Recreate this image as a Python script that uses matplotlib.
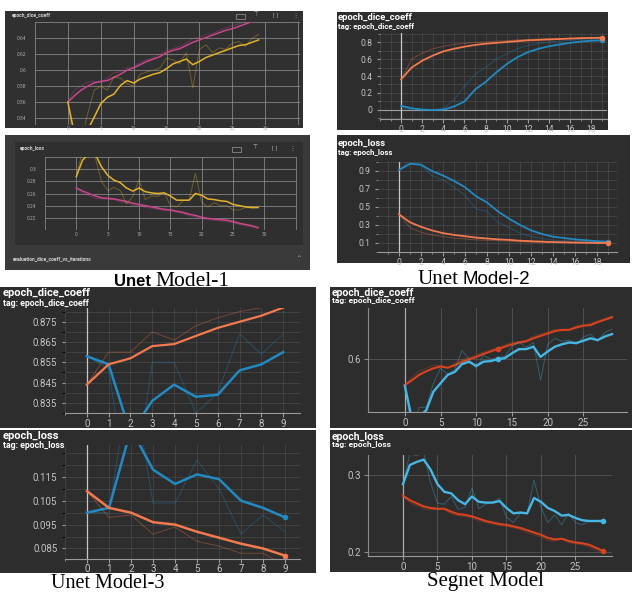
import numpy as np
import matplotlib
matplotlib.use('Agg')
import matplotlib.pyplot as plt
from matplotlib.patches import Rectangle

W, H = 632, 593

# ---------------- data ----------------
# Unet Model-1 (30 epochs)
m1_epochs = np.arange(30)
m1_dice_pink = [0.560, 0.568, 0.575, 0.580, 0.584, 0.586, 0.587, 0.591, 0.595, 0.600,
                0.603, 0.607, 0.611, 0.614, 0.617, 0.622, 0.625, 0.627, 0.631, 0.635,
                0.638, 0.641, 0.644, 0.647, 0.650, 0.652, 0.655, 0.658, 0.661, 0.663]
m1_dice_pink_raw = [0.560, 0.575, 0.580, 0.585, 0.586, 0.585, 0.590, 0.597, 0.598, 0.603,
                    0.604, 0.610, 0.613, 0.616, 0.620, 0.625, 0.627, 0.630, 0.634, 0.640,
                    0.641, 0.645, 0.646, 0.650, 0.653, 0.656, 0.658, 0.662, 0.664, 0.667]
m1_dice_yellow = [0.560, 0.520, 0.515, 0.525, 0.541, 0.558, 0.566, 0.570, 0.581, 0.587,
                  0.584, 0.589, 0.592, 0.595, 0.597, 0.602, 0.608, 0.611, 0.614, 0.607,
                  0.611, 0.616, 0.619, 0.622, 0.625, 0.628, 0.631, 0.632, 0.635, 0.638]
m1_dice_yellow_raw = [0.560, 0.500, 0.510, 0.545, 0.575, 0.580, 0.575, 0.592, 0.590, 0.583,
                      0.580, 0.595, 0.598, 0.600, 0.603, 0.615, 0.613, 0.608, 0.622, 0.578,
                      0.626, 0.632, 0.622, 0.628, 0.626, 0.634, 0.636, 0.630, 0.640, 0.645]
m1_loss_pink = [0.269, 0.264, 0.260, 0.256, 0.253, 0.252, 0.251, 0.249, 0.247, 0.244,
                0.242, 0.240, 0.238, 0.236, 0.234, 0.233, 0.231, 0.229, 0.226, 0.224,
                0.221, 0.219, 0.218, 0.217, 0.216, 0.214, 0.211, 0.209, 0.207, 0.204]
m1_loss_pink_raw = [0.269, 0.260, 0.257, 0.252, 0.251, 0.251, 0.250, 0.246, 0.245, 0.241,
                    0.240, 0.237, 0.236, 0.234, 0.232, 0.231, 0.229, 0.227, 0.224, 0.221,
                    0.219, 0.217, 0.216, 0.215, 0.214, 0.212, 0.209, 0.207, 0.205, 0.202]
m1_loss_yellow = [0.288, 0.315, 0.325, 0.325, 0.304, 0.290, 0.282, 0.278, 0.269, 0.264,
                  0.269, 0.263, 0.261, 0.260, 0.261, 0.256, 0.249, 0.249, 0.249, 0.260,
                  0.257, 0.251, 0.250, 0.248, 0.247, 0.242, 0.240, 0.238, 0.237, 0.237]
m1_loss_yellow_raw = [0.288, 0.330, 0.330, 0.320, 0.280, 0.265, 0.270, 0.265, 0.243, 0.255,
                      0.283, 0.250, 0.256, 0.255, 0.262, 0.240, 0.238, 0.248, 0.250, 0.293,
                      0.245, 0.238, 0.245, 0.240, 0.240, 0.233, 0.233, 0.237, 0.236, 0.237]

# Unet Model-2 (20 epochs)
m2_epochs = np.arange(20)
m2_dice_orange = [0.36, 0.50, 0.58, 0.64, 0.69, 0.72, 0.745, 0.765, 0.78, 0.79,
                  0.80, 0.81, 0.82, 0.825, 0.83, 0.835, 0.84, 0.845, 0.848, 0.85]
m2_dice_orange_raw = [0.36, 0.60, 0.67, 0.72, 0.75, 0.77, 0.785, 0.795, 0.80, 0.81,
                      0.815, 0.825, 0.83, 0.835, 0.84, 0.842, 0.845, 0.85, 0.852, 0.855]
m2_dice_blue = [0.05, 0.02, 0.005, 0.0, 0.005, 0.04, 0.10, 0.24, 0.33, 0.44,
                0.54, 0.62, 0.68, 0.72, 0.75, 0.77, 0.79, 0.805, 0.815, 0.82]
m2_dice_blue_raw = [0.03, 0.0, 0.0, 0.0, 0.02, 0.12, 0.28, 0.42, 0.50, 0.60,
                    0.66, 0.72, 0.76, 0.78, 0.80, 0.81, 0.82, 0.83, 0.835, 0.84]
m2_loss_orange = [0.42, 0.33, 0.28, 0.24, 0.21, 0.19, 0.175, 0.16, 0.15, 0.14,
                  0.135, 0.125, 0.12, 0.115, 0.11, 0.108, 0.105, 0.103, 0.10, 0.10]
m2_loss_orange_raw = [0.42, 0.27, 0.22, 0.19, 0.17, 0.155, 0.145, 0.135, 0.13, 0.125,
                      0.12, 0.115, 0.11, 0.108, 0.105, 0.103, 0.10, 0.10, 0.098, 0.097]
m2_loss_blue = [0.91, 0.98, 0.97, 0.90, 0.85, 0.79, 0.72, 0.62, 0.55, 0.45,
                0.37, 0.30, 0.24, 0.20, 0.17, 0.155, 0.14, 0.13, 0.12, 0.115]
m2_loss_blue_raw = [0.91, 1.02, 0.96, 0.85, 0.80, 0.72, 0.63, 0.48, 0.45, 0.33,
                    0.27, 0.21, 0.17, 0.15, 0.13, 0.125, 0.12, 0.115, 0.11, 0.105]

# Unet Model-3 (10 epochs)
m3_epochs = np.arange(10)
m3_dice_orange = [0.844, 0.854, 0.857, 0.863, 0.864, 0.868, 0.872, 0.875, 0.878, 0.882]
m3_dice_orange_raw = [0.844, 0.860, 0.860, 0.870, 0.866, 0.873, 0.877, 0.880, 0.882, 0.885]
m3_dice_blue = [0.858, 0.854, 0.820, 0.836, 0.844, 0.838, 0.839, 0.851, 0.854, 0.860]
m3_dice_blue_raw = [0.858, 0.852, 0.780, 0.855, 0.855, 0.830, 0.840, 0.869, 0.859, 0.869]
m3_loss_orange = [0.109, 0.102, 0.100, 0.096, 0.095, 0.092, 0.0895, 0.087, 0.085, 0.082]
m3_loss_orange_raw = [0.109, 0.098, 0.099, 0.091, 0.094, 0.088, 0.086, 0.083, 0.083, 0.078]
m3_loss_blue = [0.100, 0.102, 0.135, 0.118, 0.112, 0.116, 0.114, 0.105, 0.102, 0.098]
m3_loss_blue_raw = [0.100, 0.100, 0.160, 0.104, 0.104, 0.122, 0.110, 0.091, 0.099, 0.092]

# Segnet Model (30 epochs)
sg_epochs = np.arange(30)
sg_dice_red = [0.557, 0.565, 0.574, 0.580, 0.585, 0.588, 0.586, 0.590, 0.596, 0.600,
               0.604, 0.609, 0.613, 0.617, 0.621, 0.625, 0.628, 0.630, 0.635, 0.639,
               0.643, 0.647, 0.649, 0.649, 0.653, 0.656, 0.657, 0.662, 0.666, 0.670]
sg_dice_red_raw = [0.557, 0.570, 0.580, 0.585, 0.590, 0.590, 0.585, 0.594, 0.600, 0.603,
                   0.607, 0.612, 0.616, 0.620, 0.624, 0.628, 0.630, 0.632, 0.638, 0.642,
                   0.646, 0.650, 0.650, 0.650, 0.656, 0.658, 0.660, 0.664, 0.668, 0.672]
sg_dice_blue = [0.556, 0.500, 0.505, 0.515, 0.546, 0.560, 0.574, 0.579, 0.592, 0.596,
                0.589, 0.596, 0.597, 0.600, 0.602, 0.610, 0.617, 0.617, 0.621, 0.604,
                0.613, 0.621, 0.625, 0.628, 0.627, 0.631, 0.635, 0.632, 0.638, 0.642]
sg_dice_blue_raw = [0.556, 0.480, 0.520, 0.520, 0.560, 0.585, 0.575, 0.583, 0.615, 0.600,
                    0.585, 0.607, 0.600, 0.603, 0.605, 0.622, 0.628, 0.620, 0.628, 0.565,
                    0.625, 0.635, 0.630, 0.632, 0.625, 0.637, 0.642, 0.630, 0.645, 0.650]
sg_loss_red = [0.273, 0.267, 0.263, 0.259, 0.257, 0.256, 0.256, 0.252, 0.249, 0.248,
               0.246, 0.243, 0.240, 0.238, 0.236, 0.235, 0.233, 0.231, 0.228, 0.225,
               0.222, 0.218, 0.216, 0.217, 0.214, 0.212, 0.211, 0.209, 0.205, 0.201]
sg_loss_red_raw = [0.273, 0.264, 0.260, 0.256, 0.255, 0.255, 0.255, 0.249, 0.247, 0.246,
                   0.244, 0.240, 0.238, 0.236, 0.234, 0.233, 0.231, 0.229, 0.225, 0.222,
                   0.219, 0.215, 0.214, 0.216, 0.212, 0.210, 0.209, 0.206, 0.202, 0.199]
sg_loss_blue = [0.288, 0.313, 0.317, 0.320, 0.307, 0.288, 0.278, 0.276, 0.267, 0.262,
                0.272, 0.265, 0.264, 0.264, 0.266, 0.257, 0.250, 0.251, 0.250, 0.270,
                0.265, 0.257, 0.253, 0.247, 0.248, 0.244, 0.241, 0.240, 0.240, 0.240]
sg_loss_blue_raw = [0.288, 0.328, 0.325, 0.330, 0.290, 0.263, 0.262, 0.272, 0.255, 0.258,
                    0.283, 0.256, 0.262, 0.264, 0.270, 0.245, 0.238, 0.250, 0.250, 0.293,
                    0.258, 0.238, 0.248, 0.235, 0.250, 0.238, 0.235, 0.240, 0.240, 0.240]

captions = ['Unet Model-1', 'Unet Model-2', 'Unet Model-3', 'Segnet Model']

# colours
BG = '#2d2d2d'
PINK, YELLOW = '#c8478a', '#e2b22c'
ORANGE, BLUE = '#f27a4e', '#2289c2'
RED, CYAN = '#d8431f', '#46b7e2'
TICK = '#c4c4c4'
UI = ['Roboto', 'DejaVu Sans']

fig = plt.figure(figsize=(W / 100, H / 100), dpi=100)
fig.patch.set_facecolor('white')


def fbox(x0, y0, x1, y1):
    return [x0 / W, 1 - y1 / H, (x1 - x0) / W, (y1 - y0) / H]


def card(x0, y0, x1, y1, color=BG):
    fig.add_artist(Rectangle((x0 / W, 1 - y1 / H), (x1 - x0) / W, (y1 - y0) / H,
                             transform=fig.transFigure, facecolor=color,
                             edgecolor='none', zorder=-1))


def ftext(x, y, s, **kw):
    fig.text(x / W, 1 - y / H, s, **kw)


def plot_axes(px, xlim, ylim):
    ax = fig.add_axes(fbox(*px))
    ax.set_facecolor('none')
    ax.set_xlim(xlim)
    ax.set_ylim(ylim)
    for s in ax.spines.values():
        s.set_visible(False)
    ax.tick_params(colors=TICK, length=0)
    for lab in ax.get_xticklabels() + ax.get_yticklabels():
        lab.set_family(UI)
    return ax


def pair(ax, x, smooth, raw, color, lw=1.3, dot=None):
    ax.plot(x, raw, color=color, alpha=0.35, lw=0.7)
    ax.plot(x, smooth, color=color, lw=lw, solid_joinstyle='round')
    if dot is not None:
        ax.plot([x[dot]], [smooth[dot]], 'o', color=color, ms=4, mec='none')


def tb_bottom(ax, color='#9a9a9a', pad=1.5):
    ax.spines['bottom'].set_visible(True)
    ax.spines['bottom'].set_color(color)
    ax.spines['bottom'].set_linewidth(0.8)
    ax.tick_params(axis='x', which='major', length=3, color=color, pad=pad)
    ax.tick_params(axis='x', which='minor', length=1.5, color=color)


# ---------------- Unet Model-1 : dice ----------------
card(5, 11, 303, 128, '#303030')
ftext(12, 13, 'epoch_dice_coeff', fontsize=3.6, color='#d0d0d0', va='top', family=UI, weight='bold')
fig.add_artist(Rectangle((236 / W, 1 - 19 / H), 9 / W, 5 / H, transform=fig.transFigure,
                         facecolor='none', edgecolor='#9a9a9a', lw=0.5))
ftext(256, 12, '⊤', fontsize=4, color='#bbbbbb', va='top', ha='center')
ftext(276, 12, '[ ]', fontsize=3.5, color='#bbbbbb', va='top', ha='center')
ftext(295, 12, '⋮', fontsize=4.5, color='#bbbbbb', va='top', ha='center')
ax = plot_axes((35, 22, 300, 125), (-5, 35.3), (0.5313, 0.6605))
ax.set_xticks(range(-5, 36, 5), [''] + [str(v) for v in range(0, 31, 5)] + [''])
ax.set_yticks(np.arange(0.54, 0.665, 0.02), ['0.54', '0.56', '0.58', '0.6', '0.62', '0.64', ''])
ax.tick_params(labelsize=3.5, colors='#aaaaaa')
ax.tick_params(axis='y', pad=6)
ax.tick_params(axis='x', pad=0.5)
ax.grid(True, color='#858585', lw=0.6)
pair(ax, m1_epochs, m1_dice_pink, m1_dice_pink_raw, PINK, lw=1.1)
pair(ax, m1_epochs, m1_dice_yellow, m1_dice_yellow_raw, YELLOW, lw=1.1)

# ---------------- Unet Model-1 : loss ----------------
card(5, 135, 310, 270, '#3a3a3a')
card(15, 142, 303, 245, '#2f2f2f')
ftext(20, 146, 'epoch_loss', fontsize=3.6, color='#d0d0d0', va='top', family=UI, weight='bold')
fig.add_artist(Rectangle((232 / W, 1 - 152 / H), 9 / W, 5 / H, transform=fig.transFigure,
                         facecolor='none', edgecolor='#9a9a9a', lw=0.5))
ftext(255, 145, '⊤', fontsize=4, color='#bbbbbb', va='top', ha='center')
ftext(275, 145, '[ ]', fontsize=3.5, color='#bbbbbb', va='top', ha='center')
ftext(292, 145, '⋮', fontsize=4.5, color='#bbbbbb', va='top', ha='center')
ftext(13, 259, 'evaluation_dice_coeff_vs_iterations', fontsize=3.6, color='#d0d0d0',
      va='center', family=UI, weight='bold')
ftext(299, 258, '^', fontsize=4, color='#bbbbbb', va='center', ha='center')
ax = plot_axes((45, 157, 297, 230), (-5, 35.2), (0.2, 0.32))
ax.set_xticks(range(-5, 36, 5), [''] + [str(v) for v in range(0, 31, 5)] + [''])
ax.set_yticks(np.arange(0.2, 0.325, 0.02), ['', '0.22', '0.24', '0.26', '0.28', '0.3', ''])
ax.tick_params(labelsize=3.5, colors='#aaaaaa')
ax.tick_params(axis='y', pad=6)
ax.tick_params(axis='x', pad=1.5)
ax.grid(True, color='#858585', lw=0.6)
pair(ax, m1_epochs, m1_loss_pink, m1_loss_pink_raw, PINK, lw=1.1)
pair(ax, m1_epochs, m1_loss_yellow, m1_loss_yellow_raw, YELLOW, lw=1.1)

ftext(151, 286, 'Unet', fontsize=12, color='black', ha='right', va='baseline',
      family=['Liberation Sans'], weight='bold')
ftext(155, 286, captions[0].split(' ')[1], fontsize=15.5, color='black', ha='left', va='baseline',
      family=['Liberation Serif'])

# ---------------- Unet Model-2 : dice ----------------
card(337, 12, 608, 130)
ftext(338, 13, 'epoch_dice_coeff', fontsize=6.8, color='white', va='top', family=UI, weight='bold')
ftext(338, 23, 'tag: epoch_dice_coeff', fontsize=5.6, color='white', va='top', family=UI, weight='bold')
ax = plot_axes((380, 33, 607, 119), (-2, 19.5), (-0.106, 0.906))
ax.set_xticks(range(0, 19, 2))
ax.set_xticks(range(-2, 20), minor=True)
ax.set_yticks(np.arange(0, 0.81, 0.2), ['0', '0.2', '0.4', '0.6', '0.8'])
ax.set_yticks(np.arange(-0.1, 0.91, 0.1), minor=True)
ax.grid(True, which='both', color='#4a4a4a', lw=0.5)
ax.axhline(0, color='#a0a0a0', lw=0.8)
ax.axvline(0, color='#c8c8c8', lw=0.9)
tb_bottom(ax)
ax.tick_params(axis='y', which='major', length=2.5, color='#9a9a9a', pad=3)
ax.tick_params(axis='y', which='minor', length=1.5, color='#9a9a9a')
ax.tick_params(labelsize=6.2)
pair(ax, m2_epochs, m2_dice_blue, m2_dice_blue_raw, BLUE, dot=19)
pair(ax, m2_epochs, m2_dice_orange, m2_dice_orange_raw, ORANGE, dot=19)

# ---------------- Unet Model-2 : loss ----------------
card(337, 135, 630, 263)
ftext(338, 139, 'epoch_loss', fontsize=6.8, color='white', va='top', family=UI, weight='bold')
ftext(338, 149, 'tag: epoch_loss', fontsize=5.6, color='white', va='top', family=UI, weight='bold')
ax = plot_axes((378, 162, 617, 252), (-1.9, 19.8), (0, 1.0))
ax.set_xticks(range(0, 19, 2))
ax.set_xticks(range(-1, 20), minor=True)
ax.set_yticks(np.arange(0.1, 0.95, 0.2), ['0.1', '0.3', '0.5', '0.7', '0.9'])
ax.set_yticks(np.arange(0.0, 1.01, 0.1), minor=True)
ax.grid(True, which='both', color='#4a4a4a', lw=0.5)
ax.axvline(0, color='#c8c8c8', lw=0.9)
tb_bottom(ax)
ax.tick_params(axis='y', which='major', length=2.5, color='#9a9a9a', pad=3)
ax.tick_params(axis='y', which='minor', length=1.5, color='#9a9a9a')
ax.tick_params(labelsize=6.2)
pair(ax, m2_epochs, m2_loss_blue, m2_loss_blue_raw, BLUE, dot=19)
pair(ax, m2_epochs, m2_loss_orange, m2_loss_orange_raw, ORANGE, dot=19)

ftext(458, 284, 'Unet', fontsize=15, color='black', ha='right', va='baseline',
      family=['Liberation Serif'])
ftext(462, 284, captions[1].split(' ')[1], fontsize=13.5, color='black', ha='left', va='baseline',
      family=['Liberation Sans'])

# ---------------- Unet Model-3 : dice ----------------
card(0, 287, 316, 428)
ftext(3, 288, 'epoch_dice_coeff', fontsize=8, color='white', va='top', family=UI, weight='bold')
ftext(3, 299, 'tag: epoch_dice_coeff', fontsize=6.3, color='white', va='top', family=UI, weight='bold')
ax = plot_axes((65, 308, 300, 413), (-0.96, 9.77), (0.8306, 0.8818))
ax.set_xticks(range(0, 10))
ax.set_xticks(range(-1, 10), minor=True)
ax.set_yticks(np.arange(0.835, 0.8751, 0.01), ['0.835', '0.845', '0.855', '0.865', '0.875'])
ax.set_yticks(np.arange(0.830, 0.8826, 0.005), minor=True)
ax.grid(True, which='both', color='#4a4a4a', lw=0.5)
ax.axvline(0, color='#c8c8c8', lw=0.9)
tb_bottom(ax)
ax.tick_params(axis='y', which='major', length=2.5, color='#9a9a9a', pad=3)
ax.tick_params(labelsize=7)
pair(ax, m3_epochs, m3_dice_blue, m3_dice_blue_raw, BLUE, lw=1.8)
pair(ax, m3_epochs, m3_dice_orange, m3_dice_orange_raw, ORANGE, lw=1.6)

# ---------------- Unet Model-3 : loss ----------------
card(0, 430, 316, 573)
ftext(3, 431, 'epoch_loss', fontsize=8, color='white', va='top', family=UI, weight='bold')
ftext(3, 441, 'tag: epoch_loss', fontsize=6.3, color='white', va='top', family=UI, weight='bold')
ax = plot_axes((65, 445, 300, 559), (-0.95, 9.68), (0.0806, 0.1283))
ax.set_xticks(range(0, 10))
ax.set_xticks(range(-1, 10), minor=True)
ax.set_yticks(np.arange(0.085, 0.1151, 0.01), ['0.085', '0.095', '0.105', '0.115'])
ax.set_yticks(np.arange(0.085, 0.1285, 0.005), minor=True)
ax.grid(True, which='both', color='#4a4a4a', lw=0.5)
ax.axvline(0, color='#c8c8c8', lw=0.9)
tb_bottom(ax, pad=0.8)
ax.tick_params(axis='y', which='major', length=2.5, color='#9a9a9a', pad=3)
ax.tick_params(labelsize=7)
pair(ax, m3_epochs, m3_loss_blue, m3_loss_blue_raw, BLUE, lw=1.8, dot=9)
pair(ax, m3_epochs, m3_loss_orange, m3_loss_orange_raw, ORANGE, lw=1.8, dot=9)

ftext(108, 588, captions[2], fontsize=14.5, color='black', ha='center', va='baseline',
      family=['Liberation Serif'])

# ---------------- Segnet Model : dice ----------------
card(330, 287, 632, 428)
ftext(332, 288, 'epoch_dice_coeff', fontsize=7.5, color='white', va='top', family=UI, weight='bold')
ftext(332, 297, 'tag: epoch_dice_coeff', fontsize=6, color='white', va='top', family=UI, weight='bold')
ax = plot_axes((368, 308, 627, 412), (-5.15, 31.1), (0.5122, 0.6855))
ax.set_xticks(range(0, 26, 5))
ax.set_yticks([0.6], ['0.6'])
ax.grid(True, color='#555555', lw=0.6)
ax.axvline(0, color='#aaaaaa', lw=0.9)
ax.spines['left'].set_visible(True)
ax.spines['left'].set_color('#8a8a8a')
tb_bottom(ax)
ax.tick_params(axis='y', length=3, color='#8a8a8a', pad=2)
ax.tick_params(labelsize=7)
pair(ax, sg_epochs, sg_dice_red, sg_dice_red_raw, RED, lw=1.5, dot=13)
pair(ax, sg_epochs, sg_dice_blue, sg_dice_blue_raw, CYAN, lw=1.7, dot=13)

# ---------------- Segnet Model : loss ----------------
card(330, 430, 632, 572)
ftext(332, 432, 'epoch_loss', fontsize=7.5, color='white', va='top', family=UI, weight='bold')
ftext(332, 441, 'tag: epoch_loss', fontsize=6, color='white', va='top', family=UI, weight='bold')
ax = plot_axes((368, 455, 612, 556), (-5.07, 30.3), (0.1944, 0.326))
ax.set_xticks(range(0, 26, 5))
ax.set_yticks([0.2, 0.3], ['0.2', '0.3'])
ax.grid(True, color='#555555', lw=0.6)
ax.axvline(0, color='#aaaaaa', lw=0.9)
ax.spines['left'].set_visible(True)
ax.spines['left'].set_color('#8a8a8a')
tb_bottom(ax)
ax.tick_params(axis='y', length=3, color='#8a8a8a', pad=2)
ax.tick_params(labelsize=7)
pair(ax, sg_epochs, sg_loss_red, sg_loss_red_raw, RED, lw=1.5, dot=29)
pair(ax, sg_epochs, sg_loss_blue, sg_loss_blue_raw, CYAN, lw=1.7, dot=29)

ftext(485, 586, captions[3], fontsize=15, color='black', ha='center', va='baseline',
      family=['Liberation Serif'])

fig.savefig('out.png', dpi=100, facecolor='white')
